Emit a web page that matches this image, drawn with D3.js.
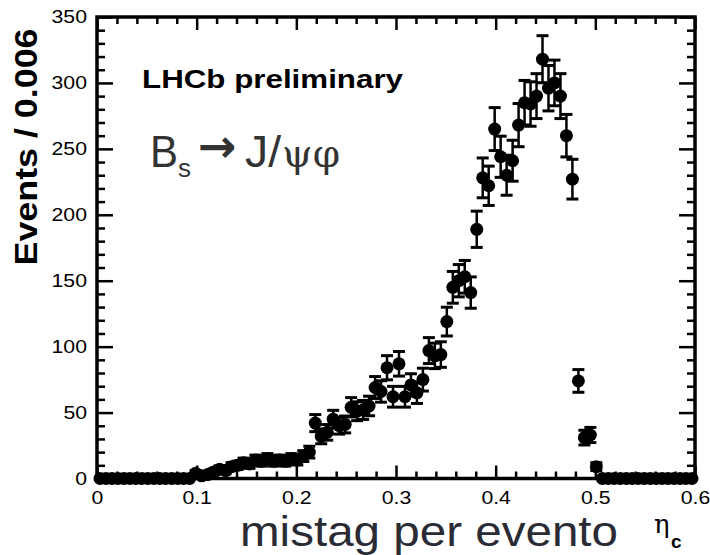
<!DOCTYPE html>
<html>
<head>
<meta charset="utf-8">
<script src="https://cdn.jsdelivr.net/npm/d3@7"></script>
</head>
<body style="margin:0">
<svg id="chart" width="710" height="555"></svg>
<script>
// Histogram of per-event mistag probability, bins of 0.006 on [0, 0.6]
const binWidth = 0.006;
const counts = [
  0, 0, 0, 0, 0, 0, 0, 0, 0, 0, 0, 0, 0, 0, 0, 0,
  4, 2, 3, 5, 7, 6, 9, 10, 12, 11, 14, 13, 15, 13, 14, 13, 15, 14, 17, 20,
  42, 32, 35, 45, 40, 41, 54, 51, 52, 55, 69, 66, 84, 62, 87, 62, 71, 65, 75,
  97, 93, 94, 119, 145, 150, 153, 141, 189, 228, 222, 265, 244, 230, 241,
  268, 285, 284, 290, 318, 296, 300, 290, 260, 227, 74, 31, 33, 9,
  0, 0, 0, 0, 0, 0, 0, 0, 0, 0, 0, 0, 0, 0, 0, 0
];
const xMajorTicks = [0, 0.1, 0.2, 0.3, 0.4, 0.5, 0.6];
const xMinorTicks = [0.02, 0.04, 0.06, 0.08, 0.12, 0.14, 0.16, 0.18, 0.22, 0.24, 0.26, 0.28,
  0.32, 0.34, 0.36, 0.38, 0.42, 0.44, 0.46, 0.48, 0.52, 0.54, 0.56, 0.58];
const yMajorTicks = [0, 50, 100, 150, 200, 250, 300, 350];
const yMinorTicks = [10, 20, 30, 40, 60, 70, 80, 90, 110, 120, 130, 140, 160, 170, 180, 190,
  210, 220, 230, 240, 260, 270, 280, 290, 310, 320, 330, 340];
const yTitle = "Events / 0.006";
const xTitle = "mistag per evento";
const label = "LHCb preliminary";

const svg = d3.select("#chart");
const frame = { left: 97, right: 695, top: 17, bottom: 478.5 };

const x = d3.scaleLinear().domain([0, 0.6]).range([frame.left, frame.right]);
const y = d3.scaleLinear().domain([0, 350]).range([frame.bottom, frame.top]);

const points = counts.map((c, i) => ({ x: (i + 0.5) * binWidth, n: c, err: Math.sqrt(c) }));

const sansFont = "'Liberation Sans', Arial, Helvetica, sans-serif";
const serifFont = "'DejaVu Serif', 'Liberation Serif', serif";

// widen a text element horizontally to the look of the original typeface
function widen(sel, factor) {
  sel.each(function () {
    const w = this.getComputedTextLength();
    d3.select(this).attr("textLength", w * factor).attr("lengthAdjust", "spacingAndGlyphs");
  });
}

// ---- data: error bars ----
const data = svg.append("g");
const withErr = points.filter(d => d.n > 0);
data.selectAll("line.bar").data(withErr).join("line")
  .attr("class", "bar")
  .attr("x1", d => x(d.x)).attr("x2", d => x(d.x))
  .attr("y1", d => y(d.n - d.err)).attr("y2", d => y(d.n + d.err))
  .attr("stroke", "#000").attr("stroke-width", 2.5);
data.selectAll("line.capTop").data(withErr).join("line")
  .attr("class", "capTop")
  .attr("x1", d => x(d.x) - 6).attr("x2", d => x(d.x) + 6)
  .attr("y1", d => y(d.n + d.err)).attr("y2", d => y(d.n + d.err))
  .attr("stroke", "#000").attr("stroke-width", 3);
data.selectAll("line.capBot").data(withErr).join("line")
  .attr("class", "capBot")
  .attr("x1", d => x(d.x) - 6).attr("x2", d => x(d.x) + 6)
  .attr("y1", d => y(d.n - d.err)).attr("y2", d => y(d.n - d.err))
  .attr("stroke", "#000").attr("stroke-width", 3);

// ---- axes: ticks pointing inward on all four sides ----
function tickMarks(g) {
  g.select(".domain").remove();
  g.selectAll(".tick line").attr("stroke", "#000").attr("stroke-width", 2.5);
}
function addAxis(axis, tx, ty) {
  return svg.append("g").attr("transform", `translate(${tx},${ty})`).call(axis).call(tickMarks);
}

addAxis(d3.axisBottom(x).tickValues(xMinorTicks).tickSizeInner(-7).tickSizeOuter(0).tickFormat(""), 0, frame.bottom);
addAxis(d3.axisTop(x).tickValues(xMinorTicks).tickSizeInner(-7).tickSizeOuter(0).tickFormat(""), 0, frame.top);
addAxis(d3.axisTop(x).tickValues(xMajorTicks).tickSizeInner(-13).tickSizeOuter(0).tickFormat(""), 0, frame.top);
const xAxis = addAxis(d3.axisBottom(x).tickValues(xMajorTicks).tickSizeInner(-13).tickSizeOuter(0)
  .tickPadding(13).tickFormat(d => d === 0 ? "0" : d3.format(".1f")(d)), 0, frame.bottom);
xAxis.selectAll(".tick text").attr("font-family", sansFont).attr("font-size", 18).attr("fill", "#000")
  .call(widen, 1.18);

addAxis(d3.axisLeft(y).tickValues(yMinorTicks).tickSizeInner(-8).tickSizeOuter(0).tickFormat(""), frame.left, 0);
addAxis(d3.axisRight(y).tickValues(yMinorTicks).tickSizeInner(-8).tickSizeOuter(0).tickFormat(""), frame.right, 0);
addAxis(d3.axisRight(y).tickValues(yMajorTicks).tickSizeInner(-16).tickSizeOuter(0).tickFormat(""), frame.right, 0);
const yAxis = addAxis(d3.axisLeft(y).tickValues(yMajorTicks).tickSizeInner(-16).tickSizeOuter(0)
  .tickPadding(10), frame.left, 0);
yAxis.selectAll(".tick text").attr("font-family", sansFont).attr("font-size", 18).attr("fill", "#000")
  .call(widen, 1.18);

// frame box
svg.append("rect")
  .attr("x", frame.left).attr("y", frame.top)
  .attr("width", frame.right - frame.left).attr("height", frame.bottom - frame.top)
  .attr("fill", "none").attr("stroke", "#000").attr("stroke-width", 3.5);

// markers
svg.append("g").selectAll("circle").data(points).join("circle")
  .attr("cx", d => x(d.x)).attr("cy", d => y(d.n))
  .attr("r", 6.5).attr("fill", "#000");

// ---- titles and labels ----
svg.append("text")
  .attr("transform", "translate(37,147) rotate(-90)")
  .attr("text-anchor", "middle")
  .attr("font-family", sansFont).attr("font-weight", "bold").attr("font-size", 32)
  .attr("textLength", 237).attr("lengthAdjust", "spacingAndGlyphs")
  .text(yTitle);

svg.append("text")
  .attr("x", 142).attr("y", 88)
  .attr("font-family", sansFont).attr("font-weight", "bold").attr("font-size", 26)
  .attr("textLength", 261).attr("lengthAdjust", "spacingAndGlyphs")
  .text(label);

// decay channel
const decayColor = "#333";
svg.append("text").attr("x", 150).attr("y", 167)
  .attr("font-family", sansFont).attr("font-size", 44).attr("fill", decayColor)
  .attr("textLength", 28).attr("lengthAdjust", "spacingAndGlyphs").text("B");
svg.append("text").attr("x", 178).attr("y", 177)
  .attr("font-family", sansFont).attr("font-size", 26).attr("fill", decayColor).text("s");
svg.append("text").attr("x", 198).attr("y", 162)
  .attr("font-family", "'DejaVu Sans', sans-serif").attr("font-size", 46).attr("font-weight", "bold")
  .attr("fill", decayColor).text("\u2192");
svg.append("text").attr("x", 245).attr("y", 167)
  .attr("font-family", sansFont).attr("font-size", 44).attr("fill", decayColor)
  .attr("textLength", 36).attr("lengthAdjust", "spacingAndGlyphs").text("J/");
svg.append("text").attr("x", 282).attr("y", 167)
  .attr("font-family", serifFont).attr("font-size", 40)
  .attr("fill", decayColor)
  .attr("textLength", 58).attr("lengthAdjust", "spacingAndGlyphs").text("\u03C8\u03C6");

// x title
svg.append("text").attr("x", 240).attr("y", 546)
  .attr("font-family", sansFont).attr("font-size", 42).attr("fill", "#2b2b36")
  .attr("textLength", 378).attr("lengthAdjust", "spacingAndGlyphs")
  .text(xTitle);
svg.append("text").attr("x", 654).attr("y", 533)
  .attr("font-family", serifFont).attr("font-size", 26)
  .attr("fill", "#000").text("\u03B7");
svg.append("text").attr("x", 671).attr("y", 548)
  .attr("font-family", sansFont).attr("font-weight", "bold").attr("font-size", 19)
  .attr("fill", "#000").text("c");
</script>
</body>
</html>
